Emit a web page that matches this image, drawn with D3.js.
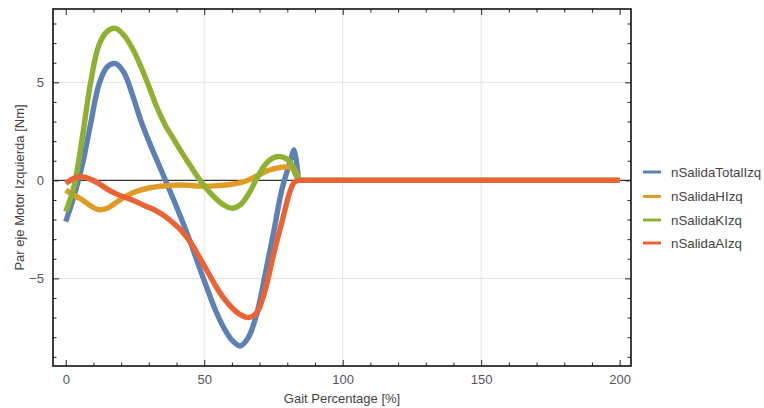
<!DOCTYPE html>
<html><head><meta charset="utf-8">
<script src="https://cdn.jsdelivr.net/npm/d3@7"></script>
<style>body{margin:0;background:#fff;} text{font-family:"Liberation Sans",Arial,sans-serif;}</style>
</head><body><svg id="c" width="764" height="408"></svg>
<script>
const xs = [0,3,6,9,12,15,18,21,24,27,30,33,36,39,42,45,48,51,54,57,60,63,66,69,72,75,78,81,82.5,84,200];
const seriesNames = ["nSalidaTotalIzq","nSalidaHIzq","nSalidaKIzq","nSalidaAIzq"];
const totalVals = [-2.1,-0.8,0.8,2.9,4.9,5.8,5.95,5.5,4.4,3.1,2.0,1.0,0.0,-1.0,-2.05,-3.15,-4.35,-5.5,-6.6,-7.5,-8.15,-8.45,-8.0,-6.8,-4.8,-2.7,-0.5,0.95,1.55,0,0];
const hipVals = [-0.5,-0.75,-1.0,-1.3,-1.5,-1.42,-1.15,-0.87,-0.65,-0.5,-0.39,-0.32,-0.28,-0.25,-0.24,-0.26,-0.29,-0.3,-0.28,-0.25,-0.2,-0.12,0.02,0.22,0.44,0.58,0.67,0.68,0.6,0,0];
const kneeVals = [-1.6,-0.3,2.2,5.0,6.9,7.6,7.75,7.4,6.75,5.85,4.8,3.7,2.8,2.1,1.4,0.75,0.1,-0.45,-0.9,-1.25,-1.42,-1.25,-0.7,0.1,0.8,1.15,1.2,0.95,0.45,0,0];
const ankleVals = [-0.15,0.1,0.18,0.05,-0.17,-0.45,-0.68,-0.85,-1.0,-1.2,-1.38,-1.58,-1.85,-2.2,-2.6,-3.15,-3.85,-4.6,-5.35,-6.0,-6.5,-6.85,-7.0,-6.75,-5.6,-3.8,-2.15,-0.55,-0.1,0,0];
const colors = ["#5E81B5","#E19C24","#8FB131","#EB6235"];
const xMajor = [0,50,100,150,200];
const yMajor = [-5,0,5];

const svg = d3.select("#c");
const L=53, R=631, T=9, B=366;
const x = d3.scaleLinear().domain([-4.6,204.1]).range([L,R]);
const y = d3.scaleLinear().domain([-9.47,8.74]).range([B,T]);

// grid
const g = svg.append("g");
g.selectAll(".gx").data([50,100,150]).enter().append("line")
  .attr("x1",d=>x(d)).attr("x2",d=>x(d)).attr("y1",T).attr("y2",B)
  .attr("stroke","#e2e2e2").attr("stroke-width",1);
g.selectAll(".gy").data([-5,5]).enter().append("line")
  .attr("x1",L).attr("x2",R).attr("y1",d=>y(d)).attr("y2",d=>y(d))
  .attr("stroke","#e2e2e2").attr("stroke-width",1);
// zero axis
svg.append("line").attr("x1",L).attr("x2",R).attr("y1",y(0)).attr("y2",y(0))
  .attr("stroke","#333").attr("stroke-width",1.2);

// lines: smooth part through data, then straight flat tail
const allVals = [totalVals,hipVals,kneeVals,ankleVals];
const nSmooth = xs.length - 1;
const smooth = d3.line().x(d=>x(d[0])).y(d=>y(d[1])).curve(d3.curveCatmullRom.alpha(0.5));
const clip = svg.append("clipPath").attr("id","cl").append("rect").attr("x",L).attr("y",T).attr("width",R-L).attr("height",B-T);
const lg = svg.append("g").attr("clip-path","url(#cl)");
allVals.forEach((v,i)=>{
  const pts = xs.map((xx,k)=>[xx,v[k]]);
  const head = pts.slice(0,nSmooth);
  const tail = pts.slice(nSmooth-1);
  const d = smooth(head) + tail.slice(1).map(p=>`L${x(p[0])},${y(p[1])}`).join("");
  lg.append("path").attr("d",d).attr("fill","none").attr("stroke",colors[i])
    .attr("stroke-width",5.4).attr("stroke-linejoin","round").attr("stroke-linecap","butt");
});

// frame axes with inward ticks
const fr = svg.append("g");
const xMinor = d3.range(0,201,10).filter(d=>!xMajor.includes(d));
const yMinor = d3.range(-9,9,1).filter(d=>!yMajor.includes(d));
const bottom = d3.axisBottom(x).tickValues(xMajor).tickSizeInner(-6).tickSizeOuter(0).tickPadding(9);
const gb = fr.append("g").attr("transform",`translate(0,${B})`).call(bottom);
gb.append("g").call(d3.axisBottom(x).tickValues(xMinor).tickSizeInner(-3.5).tickSizeOuter(0).tickFormat(""));
const gt = fr.append("g").attr("transform",`translate(0,${T})`).call(d3.axisTop(x).tickValues(xMajor).tickSizeInner(-6).tickSizeOuter(0).tickFormat(""));
gt.append("g").call(d3.axisTop(x).tickValues(xMinor).tickSizeInner(-3.5).tickSizeOuter(0).tickFormat(""));
const gl = fr.append("g").attr("transform",`translate(${L},0)`).call(d3.axisLeft(y).tickValues(yMajor).tickSizeInner(-6).tickSizeOuter(0).tickPadding(9).tickFormat(d=>d<0?"\u2212"+Math.abs(d):d));
gl.append("g").call(d3.axisLeft(y).tickValues(yMinor).tickSizeInner(-3.5).tickSizeOuter(0).tickFormat(""));
const gr = fr.append("g").attr("transform",`translate(${R},0)`).call(d3.axisRight(y).tickValues(yMajor).tickSizeInner(-6).tickSizeOuter(0).tickFormat(""));
gr.append("g").call(d3.axisRight(y).tickValues(yMinor).tickSizeInner(-3.5).tickSizeOuter(0).tickFormat(""));
fr.selectAll(".domain").remove();
fr.selectAll("line").attr("stroke","#222").attr("stroke-width",1);
fr.selectAll("text").attr("fill","#555").style("font-size","13px").style("font-family","'Liberation Sans',Arial,sans-serif");
svg.append("rect").attr("x",L).attr("y",T).attr("width",R-L).attr("height",B-T)
  .attr("fill","none").attr("stroke","#111").attr("stroke-width",1.6);

// axis labels
svg.append("text").attr("x",(L+R)/2).attr("y",403).attr("text-anchor","middle")
  .attr("fill","#444").style("font-size","13px").text("Gait Percentage [%]");
svg.append("text").attr("transform",`translate(24,${(T+B)/2}) rotate(-90)`).attr("text-anchor","middle")
  .attr("fill","#444").style("font-size","13px").text("Par eje Motor Izquierda [Nm]");

// legend
const leg = svg.append("g");
const ly = [172,196.5,220,243];
seriesNames.forEach((n,i)=>{
  leg.append("line").attr("x1",643).attr("x2",661).attr("y1",ly[i]).attr("y2",ly[i])
    .attr("stroke",colors[i]).attr("stroke-width",3);
  leg.append("text").attr("x",671).attr("y",ly[i]+4.7).attr("fill","#444")
    .style("font-size","13.3px").text(n);
});
</script></body></html>
